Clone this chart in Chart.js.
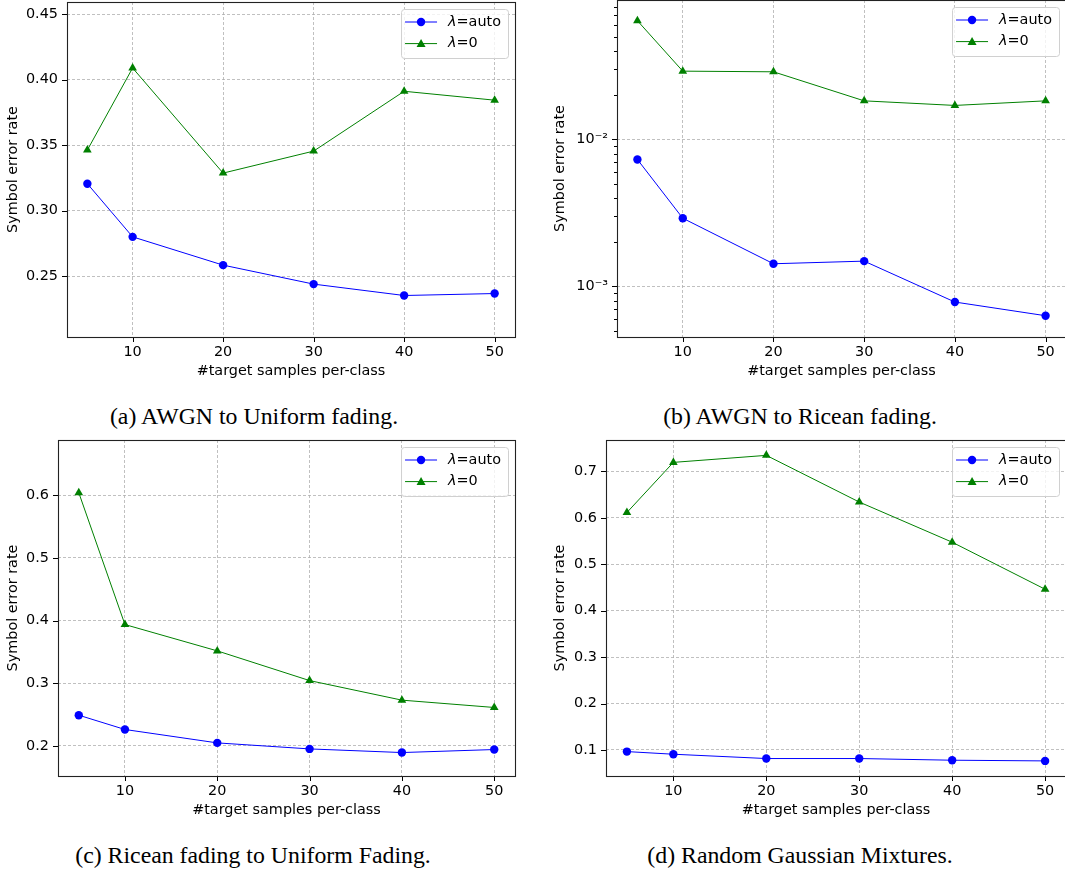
<!DOCTYPE html>
<html><head><meta charset="utf-8">
<script src="https://cdn.jsdelivr.net/npm/chart.js@4.4.1/dist/chart.umd.min.js"></script>
<style>
html,body{margin:0;padding:0;background:#fff;width:1065px;height:869px;overflow:hidden;position:relative}
canvas{position:absolute}
.cap{position:absolute;font-family:"Liberation Serif","Times New Roman",serif;font-size:23.8px;color:#000;white-space:nowrap;transform:translate(-50%,-50%)}
</style></head><body>
<canvas id="ca" width="530" height="380" style="left:0;top:0"></canvas>
<canvas id="cb" width="519" height="380" style="left:547px;top:0"></canvas>
<canvas id="cc" width="530" height="389" style="left:0;top:430px"></canvas>
<canvas id="cd" width="519" height="389" style="left:547px;top:430px"></canvas>
<div class="cap" style="left:254px;top:416px">(a) AWGN to Uniform fading.</div>
<div class="cap" style="left:800px;top:416px">(b) AWGN to Ricean fading.</div>
<div class="cap" style="left:253px;top:855px">(c) Ricean fading to Uniform Fading.</div>
<div class="cap" style="left:800px;top:855px">(d) Random Gaussian Mixtures.</div>
<script>
// ---- data ----
const xSamples = [5, 10, 20, 30, 40, 50];
const xTicks = [10, 20, 30, 40, 50];
const seriesNames = ['auto', '0'];

const aAuto = [0.3206, 0.2800, 0.2584, 0.2439, 0.2352, 0.2367];
const aZero = [0.3463, 0.4090, 0.3287, 0.3455, 0.3912, 0.3844];
const bAuto = [0.00731, 0.00291, 0.001425, 0.001485, 0.000782, 0.000631];
const bZero = [0.0644, 0.0292, 0.0289, 0.01833, 0.01706, 0.01833];
const cAuto = [0.2490, 0.2262, 0.2048, 0.1952, 0.1894, 0.1942];
const cZero = [0.6040, 0.3936, 0.3516, 0.3042, 0.2730, 0.2613];
const dAuto = [0.0965, 0.0908, 0.0815, 0.0815, 0.0779, 0.0764];
const dZero = [0.6114, 0.7194, 0.7345, 0.6340, 0.5475, 0.4462];

const aYTicks = [0.25, 0.30, 0.35, 0.40, 0.45];
const bYMajor = [0.001, 0.01];
const bYLabels = ['10\u207B\u00B3', '10\u207B\u00B2'];
const cYTicks = [0.2, 0.3, 0.4, 0.5, 0.6];
const dYTicks = [0.1, 0.2, 0.3, 0.4, 0.5, 0.6, 0.7];

const FONT = 'DejaVu Sans';
const FS = 14.4;
Chart.defaults.color = '#000';
Chart.defaults.font.family = FONT;
Chart.defaults.font.size = FS;

const BLUE = '#0000ff', GREEN = '#008000';
const GRID = '#b0b0b0';

const framePlugin = {
  id: 'frame',
  afterDraw(chart) {
    const ctx = chart.ctx, a = chart.chartArea;
    ctx.save();
    ctx.strokeStyle = '#000'; ctx.lineWidth = 1; ctx.setLineDash([]);
    const xs = chart.scales.x, ys = chart.scales.y;
    xs.ticks.forEach(t => {
      const px = Math.round(xs.getPixelForValue(t.value)) + 0.5;
      ctx.beginPath(); ctx.moveTo(px, a.bottom); ctx.lineTo(px, a.bottom + 5); ctx.stroke();
    });
    ys.ticks.forEach(t => {
      const py = Math.round(ys.getPixelForValue(t.value)) + 0.5;
      if (py < a.top - 0.5 || py > a.bottom + 0.5) return;
      const len = (t.minor ? 3 : 5);
      ctx.beginPath(); ctx.moveTo(a.left, py); ctx.lineTo(a.left - len, py); ctx.stroke();
    });
    ctx.strokeStyle = '#222'; ctx.lineWidth = 1.1;
    ctx.strokeRect(Math.round(a.left) + 0.5, Math.round(a.top) + 0.5, Math.round(a.right - a.left), Math.round(a.bottom - a.top));
    // legend
    const ds = chart.data.datasets;
    const nF = FS + 'px "' + FONT + '"';
    const itF = 'italic ' + FS + 'px "' + FONT + '"';
    let maxW = 0;
    ds.forEach(d => {
      ctx.font = itF; const w1 = ctx.measureText('\u03BB').width;
      ctx.font = nF; const w2 = ctx.measureText('=' + d.label).width;
      maxW = Math.max(maxW, w1 + w2);
    });
    const bw = 47 + maxW + 7, bh = 49;
    const bx = a.right - 7 - bw, by = a.top + 7;
    ctx.beginPath();
    if (ctx.roundRect) ctx.roundRect(bx + 0.5, by + 0.5, bw, bh, 3); else ctx.rect(bx + 0.5, by + 0.5, bw, bh);
    ctx.fillStyle = 'rgba(255,255,255,0.8)'; ctx.fill();
    ctx.strokeStyle = '#d0d0d0'; ctx.lineWidth = 1; ctx.stroke();
    ds.forEach((d, i) => {
      const cy = by + 13 + i * 21.6;
      ctx.strokeStyle = d.borderColor; ctx.lineWidth = 1;
      ctx.beginPath(); ctx.moveTo(bx + 4, cy); ctx.lineTo(bx + 36, cy); ctx.stroke();
      ctx.fillStyle = d.borderColor;
      const mx = bx + 20;
      ctx.beginPath();
      if (d.pointStyle === 'triangle') {
        ctx.moveTo(mx, cy - 4.5); ctx.lineTo(mx + 4.5, cy + 3.5); ctx.lineTo(mx - 4.5, cy + 3.5); ctx.closePath();
      } else {
        ctx.arc(mx, cy, 4.2, 0, Math.PI * 2);
      }
      ctx.fill();
      ctx.fillStyle = '#000'; ctx.textBaseline = 'middle'; ctx.textAlign = 'left';
      ctx.font = itF; ctx.fillText('\u03BB', bx + 47, cy);
      const w1 = ctx.measureText('\u03BB').width;
      ctx.font = nF; ctx.fillText('=' + d.label, bx + 47 + w1, cy);
    });
    ctx.restore();
  }
};

function pts(ys) { return xSamples.map((x, i) => ({ x: x, y: ys[i] })); }

function makeChart(id, p) {
  const yScale = {
    type: p.log ? 'logarithmic' : 'linear',
    min: p.ymin, max: p.ymax,
    afterBuildTicks: p.yTicksFn,
    afterFit: s => { s.width = p.yWidth; s.paddingTop = 0; s.paddingBottom = 0; },
    border: { display: false, dash: [3, 2] },
    grid: {
      drawTicks: false,
      color: ctx => (ctx.tick && ctx.tick.minor) ? 'rgba(0,0,0,0)' : GRID,
      lineWidth: 0.8
    },
    ticks: { padding: 9, autoSkip: false, callback: p.yLabel, font: { size: FS } },
    title: { display: true, text: 'Symbol error rate', padding: { top: 5, bottom: 0 }, font: { size: FS } }
  };
  return new Chart(document.getElementById(id), {
    type: 'line',
    data: {
      datasets: [
        { label: seriesNames[0], data: pts(p.auto), borderColor: BLUE, backgroundColor: BLUE,
          pointStyle: 'circle', pointRadius: 4.2, pointBorderWidth: 0, borderWidth: 1, pointBackgroundColor: BLUE },
        { label: seriesNames[1], data: pts(p.zero), borderColor: GREEN, backgroundColor: GREEN,
          pointStyle: 'triangle', pointRadius: 5, pointBorderWidth: 0, borderWidth: 1, pointBackgroundColor: GREEN }
      ]
    },
    options: {
      responsive: false, animation: false, devicePixelRatio: 1,
      layout: { padding: p.pad, autoPadding: false },
      plugins: { legend: { display: false }, tooltip: { enabled: false } },
      elements: { line: { tension: 0 } },
      scales: {
        x: {
          type: 'linear', min: 2.75, max: 52.25,
          afterBuildTicks: s => { s.ticks = xTicks.map(v => ({ value: v })); },
          afterFit: s => { s.height = 43; s.paddingLeft = 0; s.paddingRight = 0; },
          border: { display: false, dash: [3, 2] },
          grid: { drawTicks: false, color: GRID, lineWidth: 0.8 },
          ticks: { padding: 7, maxRotation: 0, autoSkip: false, callback: v => String(v), font: { size: FS } },
          title: { display: true, text: '#target samples per-class', padding: { top: 0, bottom: 0 }, font: { size: FS } }
        },
        y: yScale
      }
    },
    plugins: [framePlugin]
  });
}

function linTicks(list) { return s => { s.ticks = list.map(v => ({ value: v })); }; }

makeChart('ca', {
  auto: aAuto, zero: aZero, ymin: 0.2035, ymax: 0.4594, yWidth: 67,
  pad: { top: 2, right: 15, left: 0, bottom: 0 },
  yTicksFn: linTicks(aYTicks), yLabel: v => Number(v).toFixed(2)
});

makeChart('cb', {
  auto: bAuto, zero: bZero, ymin: 0.000452, ymax: 0.0891, yWidth: 70, log: true,
  pad: { top: 0, right: 0, left: 0, bottom: 0 },
  yTicksFn: s => {
    const t = [];
    [0.0001, 0.001, 0.01].forEach(dec => {
      for (let m = 1; m <= 9; m++) {
        const v = +(m * dec).toPrecision(6);
        if (v >= s.min && v <= s.max) t.push({ value: v, minor: m !== 1, major: m === 1 });
      }
    });
    s.ticks = t;
  },
  yLabel: v => { const i = bYMajor.findIndex(m => Math.abs(m - v) / m < 1e-6); return i >= 0 ? bYLabels[i] : ''; }
});

makeChart('cc', {
  auto: cAuto, zero: cZero, ymin: 0.152, ymax: 0.688, yWidth: 58,
  pad: { top: 10, right: 15, left: 0, bottom: 0 },
  yTicksFn: linTicks(cYTicks), yLabel: v => Number(v).toFixed(1)
});

makeChart('cd', {
  auto: dAuto, zero: dZero, ymin: 0.0439, ymax: 0.7676, yWidth: 59,
  pad: { top: 10, right: 0, left: 0, bottom: 0 },
  yTicksFn: linTicks(dYTicks), yLabel: v => Number(v).toFixed(1)
});
</script>
</body></html>
